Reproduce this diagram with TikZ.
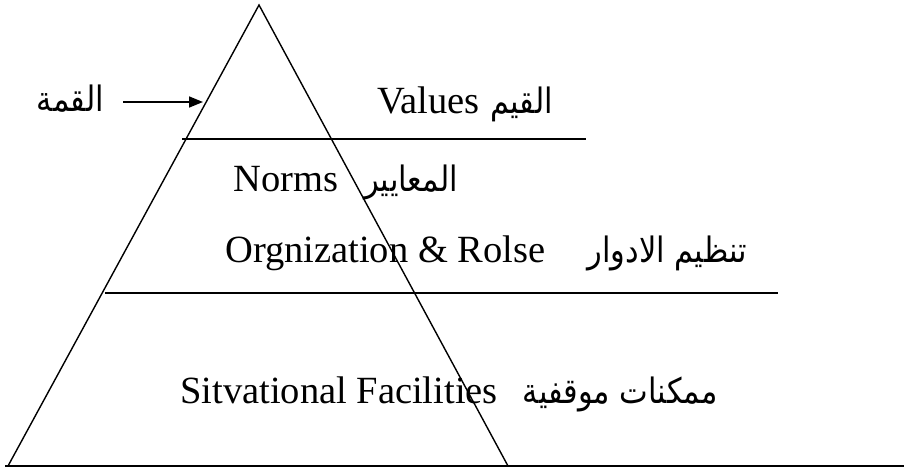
\documentclass[tikz,border=0pt]{standalone}
\usepackage{fontspec}
\setmainfont{Liberation Serif}
\newfontfamily\arabicfont[Script=Arabic,FakeStretch=0.87]{DejaVu Sans}
\TeXXeTstate=1
\usetikzlibrary{arrows.meta}
\begin{document}
\begin{tikzpicture}[x=1pt,y=-1pt,
  rule/.style={line width=1.4pt},
  en/.style={font=\fontsize{38.5}{44}\selectfont, inner sep=0pt},
  ar/.style={font=\arabicfont\fontsize{35}{40}\selectfont, inner sep=0pt},
  pointer/.style={line width=1.6pt, -{Triangle[length=14pt,width=11pt]}, shorten <=19pt}]
\useasboundingbox (0,0) rectangle (904,471);
% pyramid
\coordinate (apex) at (259,5);
\coordinate (bl) at (8,466);
\coordinate (br) at (508,466);
\draw[rule, line join=miter] (bl) -- (apex) -- (br);
% level lines
\coordinate (l1a) at (182,139); \coordinate (l1b) at (586,139);
\coordinate (l2a) at (105,293); \coordinate (l2b) at (778,293);
\coordinate (l3a) at (5,466);   \coordinate (l3b) at (904,466);
\draw[rule] (l1a) -- (l1b);
\draw[rule] (l2a) -- (l2b);
\draw[rule] (l3a) -- (l3b);
% texts
\node[en, anchor=base west] (values) at (377,113) {Values};
\node[ar, anchor=base east] (qiyam) at (553,113) {\beginR القيم\endR};
\node[en, anchor=base west] (norms) at (233,191) {Norms};
\node[ar, anchor=base east] (maayir) at (458,191) {\beginR المعايير\endR};
\node[en, anchor=base west] (org) at (225,262) {Orgnization \& Rolse};
\node[ar, anchor=base east] (adwar) at (747,262) {\beginR تنظيم الادوار\endR};
\node[en, anchor=base east] (sit) at (498,403) {Sitvational Facilities};
\node[ar, anchor=base east] (mumkinat) at (718,403) {\beginR ممكنات موقفية\endR};
% top label and arrow
\node[ar, anchor=base east] (qimma) at (104,111) {\beginR القمة\endR};
\coordinate (tip) at (203,102);
\draw[pointer] (qimma.east |- tip) -- (tip);
\end{tikzpicture}
\end{document}
